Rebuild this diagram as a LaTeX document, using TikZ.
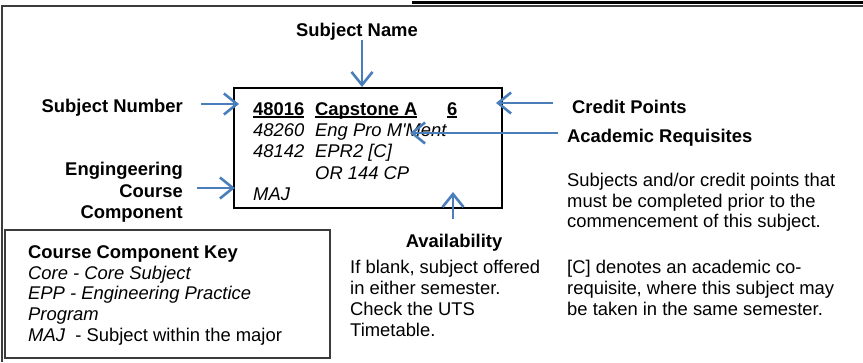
\documentclass[tikz,border=0pt]{standalone}
\usepackage{fontspec}
\setmainfont{Liberation Sans}
\usetikzlibrary{arrows.meta}
\definecolor{arrowblue}{RGB}{74,126,187}
\definecolor{framegray}{RGB}{60,60,60}
\newcommand\myul[1]{\setbox0\hbox{#1}\rlap{\rule[-2.6pt]{\wd0}{1.4pt}}\box0}
\begin{document}
\begin{tikzpicture}[x=1pt,y=-1pt,
  txt/.style={inner sep=0pt, text=black, font=\fontsize{18.4}{21}\selectfont},
  bl/.style={txt, anchor=base west},
  br/.style={txt, anchor=base east},
  bc/.style={txt, anchor=base},
  hd/.style={font=\fontsize{18.4}{21}\selectfont\bfseries},
  it/.style={font=\fontsize{18.4}{21}\selectfont\itshape},
  ptr/.style={draw=arrowblue, line width=2.6pt,
    -{Straight Barb[length=13pt,width=21pt,line width=2.6pt]}},
  frame/.style={draw=framegray, line width=1.6pt},
]
\useasboundingbox (0,0) rectangle (863,362);
\fill[white] (0,0) rectangle (863,362);
% outer frame
\draw[frame] (2,362) -- (2,6) -- (863,6);
\draw[black, line width=3.5pt] (412,2.5) -- (863,2.5);

% subject card
\draw[draw=black, line width=1.5pt] (234,88) rectangle (502,208);
\node[bl, hd] (n1) at (253,115) {\myul{48016}};
\node[bl, hd] (t1) at (315,115) {\myul{Capstone A}};
\node[bl, hd] (cp) at (447,115) {\myul{6}};
\node[bl, it] (n2) at (253,136) {48260};
\node[bl, it] (t2) at (315,136) {Eng Pro M\textquotesingle Ment};
\node[bl, it] (n3) at (253,157) {48142};
\node[bl, it] (t3) at (315,157) {EPR2 [C]};
\node[bl, it] (t4) at (315,179) {OR 144 CP};
\node[bl, it] (n5) at (253,200) {MAJ};

% subject name
\node[bc, hd] (sname) at (357,36) {Subject Name};
\coordinate (snTip) at (362,87);
\draw[ptr] (sname.south -| snTip) -- (snTip);

% subject number
\node[br, hd] (snum) at (183,112) {Subject Number};
\coordinate (snumS) at (201,104);
\coordinate (snumT) at (239,104);
\draw[ptr] (snumS) -- (snumT);

% engineering course component
\node[br, hd] (ec1) at (183,175) {Engingeering};
\node[br, hd] (ec2) at (183,197) {Course};
\node[br, hd] (ec3) at (183,218) {Component};
\coordinate (ecS) at (197,188);
\coordinate (ecT) at (235,188);
\draw[ptr] (ecS) -- (ecT);

% credit points
\node[bl, hd] (credit) at (572,113) {Credit Points};
\coordinate (crS) at (553,103);
\coordinate (crT) at (496,103);
\draw[ptr] (crS) -- (crT);

% academic requisites
\node[bl, hd] (acad) at (567,142) {Academic Requisites};
\coordinate (acS) at (558,133);
\coordinate (acT) at (410,133);
\draw[ptr] (acS) -- (acT);
\node[bl] (ac1) at (567,186) {Subjects and/or credit points that};
\node[bl] (ac2) at (567,207) {must be completed prior to the};
\node[bl] (ac3) at (567,227) {commencement of this subject.};

% availability
\coordinate (avS) at (453,219);
\coordinate (avT) at (453,192);
\draw[ptr] (avS) -- (avT);
\node[bc, hd] (avail) at (454,247) {Availability};
\node[bl] (av1) at (350,273) {If blank, subject offered};
\node[bl] (av2) at (350,294) {in either semester.};
\node[bl] (av3) at (350,315) {Check the UTS};
\node[bl] (av4) at (350,336) {Timetable.};

% co-requisite note
\node[bl] (co1) at (567,273) {[C] denotes an academic co-};
\node[bl] (co2) at (567,294) {requisite, where this subject may};
\node[bl] (co3) at (567,315) {be taken in the same semester.};

% key box
\draw[frame] (5,230) rectangle (330,358);
\node[bl, hd] (k1) at (28,258) {Course Component Key};
\node[bl, it] (k2) at (28,279) {Core - Core Subject};
\node[bl, it] (k3) at (28,299.5) {EPP - Engineering Practice};
\node[bl, it] (k4) at (28,320) {Program};
\node[bl] (k5) at (28,341) {\textit{MAJ}\ \ - Subject within the major};
\end{tikzpicture}
\end{document}
